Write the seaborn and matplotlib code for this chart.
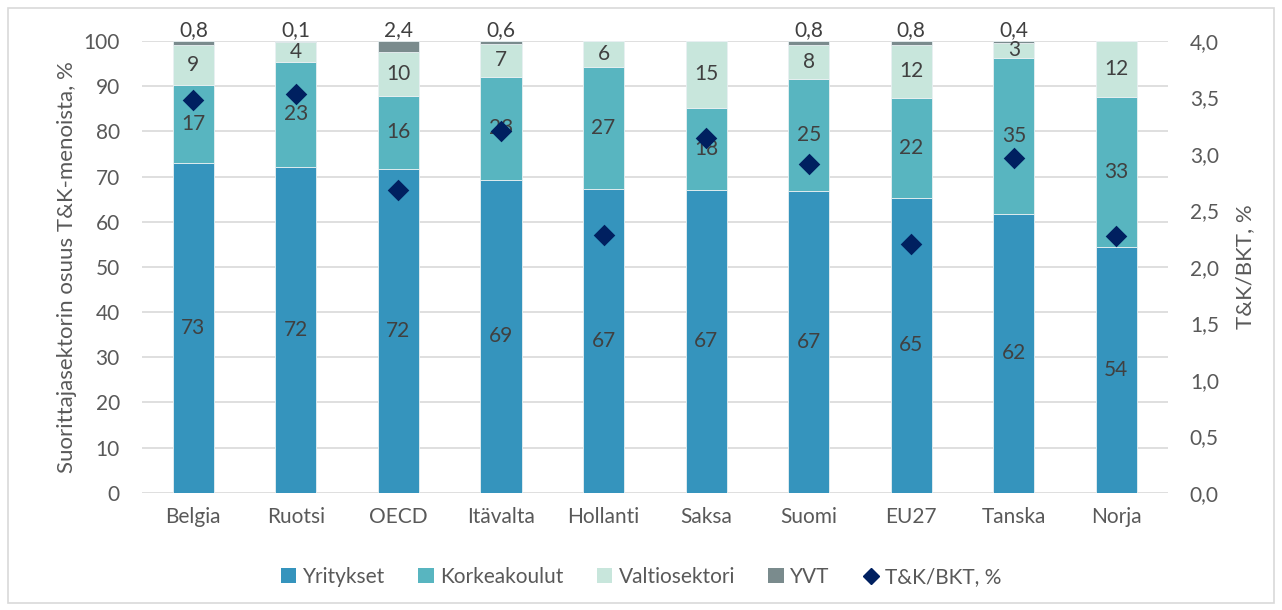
import numpy as np
import pandas as pd
import matplotlib
matplotlib.use("Agg")
import matplotlib.pyplot as plt
from matplotlib.patches import Patch, Rectangle
from matplotlib.lines import Line2D
import seaborn as sns

# -----------------------------
# Data
# -----------------------------
maat = ["Belgia", "Ruotsi", "OECD", "Itävalta", "Hollanti",
        "Saksa", "Suomi", "EU27", "Tanska", "Norja"]
yritykset = [72.9, 72.1, 71.6, 69.3, 67.3, 67.0, 66.9, 65.3, 61.7, 54.4]
korkeakoulut = [17.3, 23.3, 16.3, 22.7, 27.0, 18.2, 24.6, 22.1, 34.6, 33.2]
valtiosektori = [9.0, 4.4, 9.7, 7.4, 5.7, 14.8, 7.7, 11.8, 3.3, 12.4]
yvt = [0.8, 0.1, 2.4, 0.6, 0.0, 0.0, 0.8, 0.8, 0.4, 0.0]
tk_bkt = [3.48, 3.53, 2.68, 3.20, 2.28, 3.14, 2.91, 2.20, 2.96, 2.27]

sarjat = ["Yritykset", "Korkeakoulut", "Valtiosektori", "YVT"]
varit = ["#3594BD", "#58B5C0", "#C8E6DC", "#7A8B8D"]
diamond_color = "#002060"
txt_color = "#595959"
lbl_color = "#404040"

df = pd.DataFrame({
    "maa": maat,
    "Yritykset": yritykset,
    "Korkeakoulut": korkeakoulut,
    "Valtiosektori": valtiosektori,
    "YVT": yvt,
    "tk": tk_bkt,
})

sns.set_style("white")
plt.rcParams["font.family"] = ["Lato", "DejaVu Sans"]

fig = plt.figure(figsize=(12.82, 6.10), dpi=100)
ax = fig.add_axes([0.1108, 0.1923, 0.8000, 0.7405])

# -----------------------------
# Stacked bars
# -----------------------------
bottom = np.zeros(len(maat))
for s, c in zip(sarjat, varit):
    sns.barplot(data=df, x="maa", y=s, bottom=bottom, color=c, width=0.4,
                saturation=1, ax=ax, edgecolor="#e8f0f2", linewidth=0.6, zorder=2)
    vals = df[s].values
    for i, v in enumerate(vals):
        if s == "YVT":
            if v > 0:
                ax.text(i, 100.2, f"{v:.1f}".replace(".", ","), ha="center", va="bottom",
                        fontsize=15, color=lbl_color, zorder=5)
        else:
            ax.text(i, bottom[i] + v / 2, f"{v:.0f}", ha="center", va="center",
                    fontsize=15, color=lbl_color, zorder=5)
    bottom = bottom + vals

ax.set_ylim(0, 100)
ax.set_xlim(-0.5, len(maat) - 0.5)
ax.set_yticks(range(0, 101, 10))
ax.yaxis.grid(True, color="#d9d9d9", linewidth=1.2, zorder=0)
ax.set_axisbelow(True)
for sp in ax.spines.values():
    sp.set_visible(False)
ax.set_xlabel("")
ax.set_ylabel("Suorittajasektorin osuus T&K-menoista, %", fontsize=16, color=txt_color, labelpad=5)
ax.tick_params(axis="y", length=0, labelsize=15, labelcolor=txt_color, pad=16)
ax.tick_params(axis="x", length=0, labelsize=15, labelcolor=txt_color, pad=10)

# -----------------------------
# Secondary axis: T&K/BKT
# -----------------------------
ax2 = ax.twinx()
sns.stripplot(x=maat, y=tk_bkt, marker="D", jitter=False, size=11,
              color=diamond_color, linewidth=0, ax=ax2, zorder=6)
ax2.set_ylim(0, 4)
ax2.set_xlim(-0.5, len(maat) - 0.5)
ax2.set_yticks(np.arange(0, 4.01, 0.5))
ax2.set_yticklabels([f"{t:.1f}".replace(".", ",") for t in np.arange(0, 4.01, 0.5)])
ax2.tick_params(axis="y", length=0, labelsize=15, labelcolor=txt_color, pad=16)
ax2.set_ylabel("T&K/BKT, %", fontsize=16, color=txt_color, labelpad=12)
for sp in ax2.spines.values():
    sp.set_visible(False)
ax2.grid(False)

# -----------------------------
# Legend
# -----------------------------
handles = [Patch(facecolor=c, edgecolor="none") for c in varit]
handles.append(Line2D([], [], marker="D", linestyle="none", color=diamond_color, markersize=8))
fig.legend(handles, sarjat + ["T&K/BKT, %"], loc="center", bbox_to_anchor=(0.5, 0.054),
           ncol=5, frameon=False, fontsize=15, labelcolor=txt_color,
           handlelength=0.75, handleheight=0.75, handletextpad=0.3, columnspacing=1.6)

# figure border
fig.patches.append(Rectangle((0.006, 0.012), 0.988, 0.975, transform=fig.transFigure,
                             fill=False, edgecolor="#d9d9d9", linewidth=1.2))

fig.savefig("out.png", dpi=100)
